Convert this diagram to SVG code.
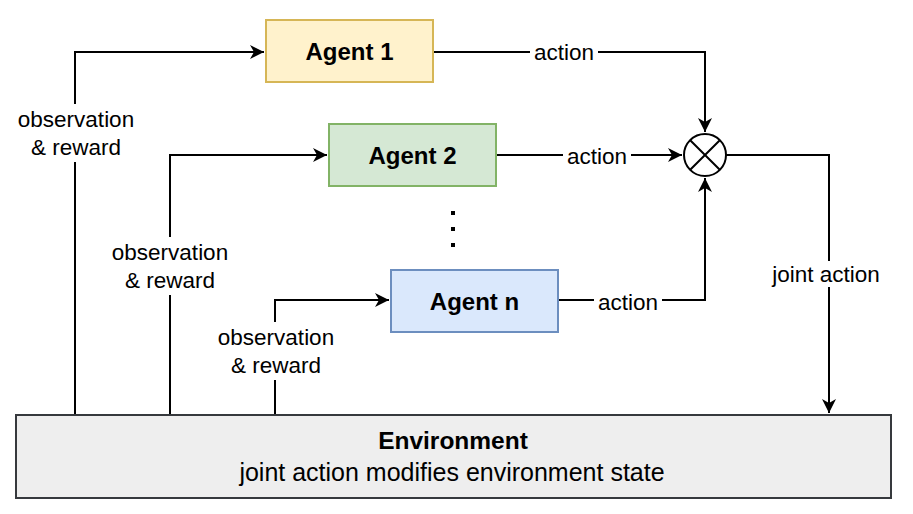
<svg xmlns="http://www.w3.org/2000/svg" width="913" height="514" viewBox="0 0 913 514">
<style>
.box{stroke-width:2}
.edge{fill:none;stroke:#000;stroke-width:2}
.lbl{font-family:"Liberation Sans",Arial,sans-serif;font-size:22.5px;fill:#000;text-anchor:middle}
.bold{font-family:"Liberation Sans",Arial,sans-serif;font-size:24px;font-weight:bold;fill:#000;text-anchor:middle}
.env{font-family:"Liberation Sans",Arial,sans-serif;font-size:25px;fill:#000;text-anchor:middle}
.bg{fill:#fff}
</style>
<defs>
<marker id="arr" markerUnits="userSpaceOnUse" markerWidth="16" markerHeight="14" refX="14" refY="7" orient="auto">
<path d="M0,0 L14,7 L0,14 L4,7 z" fill="#000"/>
</marker>
</defs>
<rect width="913" height="514" fill="#fff"/>
<g id="connectors">
<path class="edge" d="M75,415 V52 H264" marker-end="url(#arr)"/>
<path class="edge" d="M170,415 V155 H327" marker-end="url(#arr)"/>
<path class="edge" d="M275,415 V300 H389" marker-end="url(#arr)"/>
<path class="edge" d="M433,52 H705 V132" marker-end="url(#arr)"/>
<path class="edge" d="M496,155 H682" marker-end="url(#arr)"/>
<path class="edge" d="M558,300 H705 V178" marker-end="url(#arr)"/>
<path class="edge" d="M726,155 H829 V413" marker-end="url(#arr)"/>
<rect class="bg" x="16" y="104" width="120" height="58"/>
<text class="lbl" x="76" y="127">observation</text>
<text class="lbl" x="76" y="155">&amp; reward</text>
<rect class="bg" x="111" y="237" width="120" height="58"/>
<text class="lbl" x="170" y="260">observation</text>
<text class="lbl" x="170" y="288">&amp; reward</text>
<rect class="bg" x="216" y="322" width="120" height="58"/>
<text class="lbl" x="276" y="345">observation</text>
<text class="lbl" x="276" y="373">&amp; reward</text>
<rect class="bg" x="530" y="40" width="68" height="26"/>
<text class="lbl" x="564" y="60">action</text>
<rect class="bg" x="563" y="143" width="68" height="26"/>
<text class="lbl" x="597" y="164">action</text>
<rect class="bg" x="594" y="289" width="68" height="26"/>
<text class="lbl" x="628" y="310">action</text>
<rect class="bg" x="769" y="261" width="114" height="26"/>
<text class="lbl" x="826" y="282">joint action</text>
</g>
<g id="agent1">
<rect class="box" x="266" y="20" width="167" height="62" fill="#fff2cc" stroke="#d6b656"/>
<text class="bold" x="349.5" y="59.5">Agent 1</text>
</g>
<g id="agent2">
<rect class="box" x="329" y="124" width="167" height="62" fill="#d5e8d4" stroke="#82b366"/>
<text class="bold" x="412.5" y="163.5">Agent 2</text>
</g>
<g id="dots">
<rect x="451" y="211" width="4" height="4" fill="#000"/>
<rect x="451" y="227" width="4" height="4" fill="#000"/>
<rect x="451" y="243" width="4" height="4" fill="#000"/>
</g>
<g id="agentn">
<rect class="box" x="391" y="270" width="167" height="62" fill="#dae8fc" stroke="#6c8ebf"/>
<text class="bold" x="474.5" y="309.5">Agent n</text>
</g>
<g id="combiner">
<circle cx="705" cy="155" r="21" fill="#fff" stroke="#000" stroke-width="2"/>
<path d="M690.2,140.2 L719.8,169.8 M719.8,140.2 L690.2,169.8" stroke="#000" stroke-width="2"/>
</g>
<g id="environment">
<rect x="16" y="415" width="875" height="83" fill="#eeeeee" stroke="#36393d" stroke-width="2"/>
<text class="env" x="453" y="449" style="font-weight:bold;font-size:24.5px">Environment</text>
<text class="env" x="452" y="481">joint action modifies environment state</text>
</g>
</svg>
